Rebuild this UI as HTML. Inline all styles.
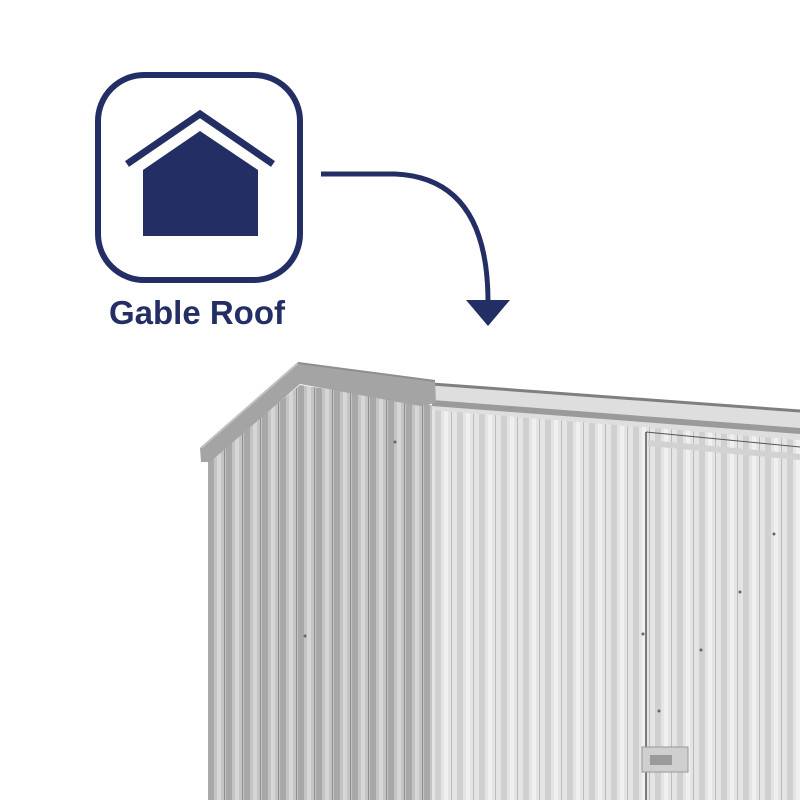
<!DOCTYPE html>
<html><head><style>
html,body{margin:0;padding:0;background:#fff;}
svg{display:block}
</style></head><body>
<svg width="800" height="800" viewBox="0 0 800 800" xmlns="http://www.w3.org/2000/svg">
<defs>
<pattern id="side" width="18" height="10" patternUnits="userSpaceOnUse" x="208">
<rect width="18" height="10" fill="#c4c4c4"/>
<rect x="0" width="6" height="10" fill="#a8a8a8"/>
<rect x="9" width="4" height="10" fill="#d6d6d6"/>
<rect x="16" width="1" height="10" fill="#8f8f8f"/>
</pattern>
<pattern id="front" width="22" height="10" patternUnits="userSpaceOnUse" x="432">
<rect width="22" height="10" fill="#e4e4e4"/>
<rect x="3" width="6" height="10" fill="#d0d0d0"/>
<rect x="12" width="4" height="10" fill="#f0f0f0"/>
<rect x="19" width="1" height="10" fill="#bcbcbc"/>
</pattern>
</defs>
<!-- icon -->
<rect x="98" y="75" width="202" height="205" rx="46" fill="none" stroke="#232f64" stroke-width="6"/>
<polyline points="127,164 200,114 273,164" fill="none" stroke="#232f64" stroke-width="7"/>
<polygon points="143,236 143,170 200,131 258,170 258,236" fill="#232f64"/>
<text x="197" y="324" text-anchor="middle" font-family="Liberation Sans, sans-serif" font-weight="bold" font-size="33" fill="#232f64">Gable Roof</text>
<!-- arrow -->
<path d="M321,174 L395,174 Q488,178 488,302" fill="none" stroke="#232f64" stroke-width="5"/>
<polygon points="466,300 510,300 488,326" fill="#232f64"/>
<!-- shed side -->
<polygon points="208,460 300,385 432,405 432,800 208,800" fill="url(#side)"/>
<!-- front -->
<polygon points="432,405 800,440 800,800 432,800" fill="url(#front)"/>
<!-- front top trims -->
<polygon points="432,385 800,412 800,440 432,410" fill="#dedede"/>
<polygon points="432,400 800,428 800,434 432,406" fill="#9a9a9a"/>
<line x1="432" y1="384" x2="800" y2="411" stroke="#7f7f7f" stroke-width="3"/>
<!-- roof gable trim -->
<polygon points="200,448 298,362 435,381 436,403 420,406 300,384 210,462 201,462" fill="#a4a4a4"/>
<line x1="201" y1="448" x2="298" y2="363" stroke="#c2c2c2" stroke-width="2"/>
<line x1="298" y1="363" x2="435" y2="381" stroke="#8e8e8e" stroke-width="2"/>
<!-- door -->
<line x1="646" y1="432" x2="646" y2="800" stroke="#555" stroke-width="1.5"/>
<line x1="646" y1="432" x2="800" y2="447" stroke="#555" stroke-width="1"/>
<polygon points="648,440 800,454 800,460 648,446" fill="#d2d2d2"/>
<!-- latch -->
<rect x="642" y="747" width="46" height="25" fill="#cfcfcf" stroke="#999"/>
<rect x="650" y="755" width="22" height="10" fill="#9a9a9a"/>
<!-- screws -->
<circle cx="305" cy="636" r="1.5" fill="#666"/>
<circle cx="643" cy="634" r="1.5" fill="#666"/>
<circle cx="701" cy="650" r="1.5" fill="#666"/>
<circle cx="659" cy="711" r="1.5" fill="#666"/>
<circle cx="774" cy="534" r="1.5" fill="#666"/>
<circle cx="740" cy="592" r="1.5" fill="#666"/>
<circle cx="395" cy="442" r="1.5" fill="#666"/>
</svg>
</body></html>
